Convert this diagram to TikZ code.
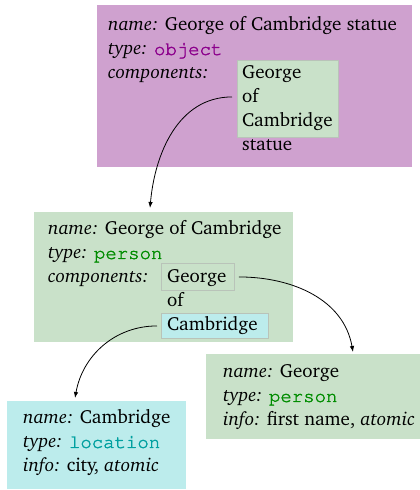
\documentclass[tikz,border=0pt]{standalone}
\usepackage[T1]{fontenc}
\usepackage{charter}
\renewcommand{\ttdefault}{pcr}
\usetikzlibrary{arrows.meta}
\definecolor{objbg}{RGB}{207,161,207}
\definecolor{perbg}{RGB}{201,225,201}
\definecolor{locbg}{RGB}{188,236,236}
\definecolor{objtx}{RGB}{140,0,140}
\definecolor{pertx}{RGB}{0,140,0}
\definecolor{loctx}{RGB}{0,160,160}
\definecolor{boxedge}{RGB}{185,195,185}
\tikzset{
  txt/.style={anchor=base west, inner sep=0pt, font=\fontsize{19}{24}\selectfont},
  chip/.style={draw=boxedge, line width=0.9pt, anchor=north west, inner sep=0pt},
  link/.style={line width=0.8pt, -{Latex[length=6pt,width=4.5pt]}},
}
\newcommand{\lab}[1]{\textit{#1}}
\newcommand{\kw}[2]{{\color{#1}\special{pdf:literal direct 2 Tr 0.35 w}\texttt{#2}\special{pdf:literal direct 0 Tr}}}
\begin{document}
\begin{tikzpicture}[x=1pt,y=1pt]
\useasboundingbox (0,0) rectangle (420,490);
% panels
\fill[objbg] (97,485) rectangle (412,323);
\fill[perbg] (34,278) rectangle (293,148);
\fill[locbg] (7,89) rectangle (186,1);
\fill[perbg] (206,136) rectangle (421,51);
% chips
\node[chip, fill=perbg, minimum width=101pt, minimum height=77pt] (k1) at (237,430) {};
\node[chip, fill=perbg, minimum width=73pt, minimum height=27pt] (k2) at (161,227) {};
\node[chip, fill=locbg, minimum width=107pt, minimum height=25pt] (k3) at (161,177) {};
% top panel text
\node[txt] (t1) at (108,459) {\lab{name:} George of Cambridge statue};
\node[txt] (t2) at (108,435) {\lab{type:} \kw{objtx}{object}};
\node[txt] (t3) at (108,411) {\lab{components:}};
\node[txt] (c1) at (242,411) {George};
\node[txt] (c2) at (242,387) {of};
\node[txt] (c3) at (242,363) {Cambridge};
\node[txt] (c4) at (242,339) {statue};
% middle panel text
\node[txt] (m1) at (48,255) {\lab{name:} George of Cambridge};
\node[txt] (m2) at (48,231) {\lab{type:} \kw{pertx}{person}};
\node[txt] (m3) at (48,207) {\lab{components:}};
\node[txt] (g1) at (167,207) {George};
\node[txt] (g2) at (167,183) {of};
\node[txt] (g3) at (167,159) {Cambridge};
% bottom left
\node[txt] (l1) at (23,66) {\lab{name:} Cambridge};
\node[txt] (l2) at (23,42) {\lab{type:} \kw{loctx}{location}};
\node[txt] (l3) at (23,18) {\lab{info:} city, \textit{atomic}};
% bottom right
\node[txt] (r1) at (223,112) {\lab{name:} George};
\node[txt] (r2) at (223,88) {\lab{type:} \kw{pertx}{person}};
\node[txt] (r3) at (223,64) {\lab{info:} first name, \textit{atomic}};
% connector end points
\coordinate (a1s) at ([xshift=-5pt,yshift=2pt]k1.west);
\coordinate (a1e) at (150,282);
\coordinate (a2s) at ([xshift=4pt]k2.east);
\coordinate (a2e) at (353,138);
\coordinate (a3s) at ([xshift=-4pt]k3.west);
\coordinate (a3e) at (75,92);
\draw[link] (a1s) to[out=180, in=85] (a1e);
\draw[link] (a2s) to[out=0, in=100] (a2e);
\draw[link] (a3s) to[out=180, in=80] (a3e);
\end{tikzpicture}
\end{document}
